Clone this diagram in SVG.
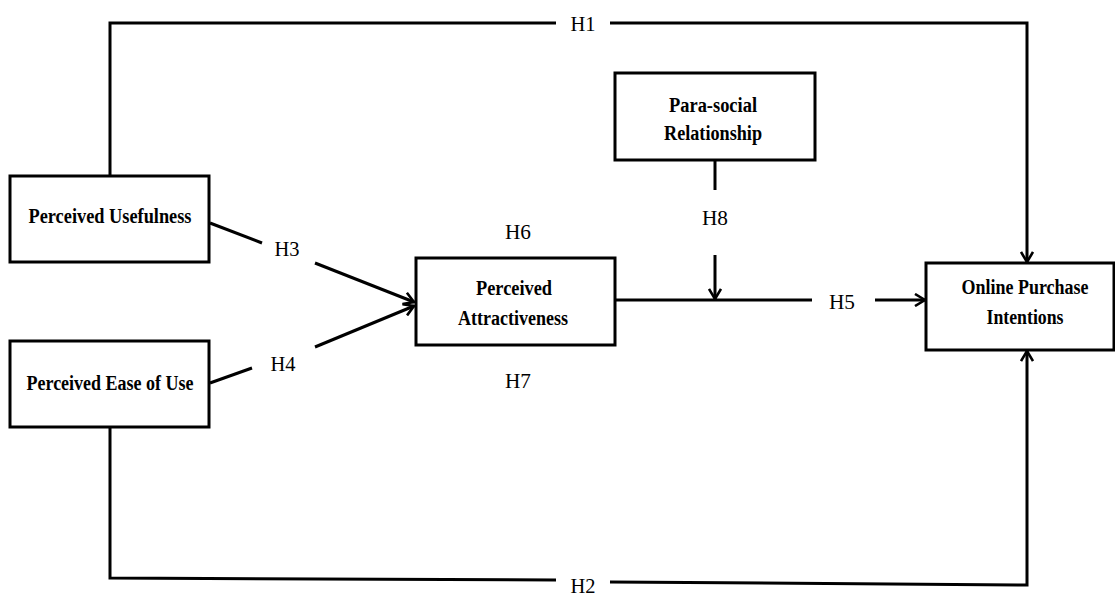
<svg xmlns="http://www.w3.org/2000/svg" width="1115" height="597" viewBox="0 0 1115 597">
<style>
.box{fill:#fff;stroke:#000;stroke-width:3}
.ln{fill:none;stroke:#000;stroke-width:3}
.nt{font-family:"Liberation Serif","Times New Roman",serif;font-weight:bold;font-size:20px;fill:#000;text-anchor:middle}
.lb{font-family:"Liberation Serif","Times New Roman",serif;font-size:21px;fill:#000;text-anchor:middle}
</style>
<defs>
<marker id="ah" viewBox="0 0 14 14" refX="12" refY="7" markerWidth="14" markerHeight="14" markerUnits="userSpaceOnUse" orient="auto">
<path d="M2,1 L12,7 L2,13" fill="none" stroke="#000" stroke-width="2.6"/>
</marker>
</defs>
<rect width="1115" height="597" fill="#fff"/>
<g id="connectors">
<polyline class="ln" points="110,176 110,23 556,23"/>
<polyline class="ln" points="610,23 1027,23 1027,262" marker-end="url(#ah)"/>
<polyline class="ln" points="110,427 110,578 556,580"/>
<polyline class="ln" points="610,582 1027,585 1027,351" marker-end="url(#ah)"/>
<line class="ln" x1="210" y1="223" x2="262" y2="243"/>
<line class="ln" x1="315" y1="263" x2="414" y2="302" marker-end="url(#ah)"/>
<line class="ln" x1="210" y1="383" x2="252" y2="368"/>
<line class="ln" x1="315" y1="347" x2="414" y2="306" marker-end="url(#ah)"/>
<line class="ln" x1="715" y1="160" x2="715" y2="190"/>
<line class="ln" x1="715" y1="255" x2="715" y2="299" marker-end="url(#ah)"/>
<line class="ln" x1="616" y1="300" x2="812" y2="300"/>
<line class="ln" x1="875" y1="300" x2="925" y2="300" marker-end="url(#ah)"/>
<text class="lb" x="583" y="31" textLength="25" lengthAdjust="spacingAndGlyphs">H1</text>
<text class="lb" x="583" y="593" textLength="25" lengthAdjust="spacingAndGlyphs">H2</text>
<text class="lb" x="287" y="256" textLength="25" lengthAdjust="spacingAndGlyphs">H3</text>
<text class="lb" x="283" y="371" textLength="25" lengthAdjust="spacingAndGlyphs">H4</text>
<text class="lb" x="842" y="309" textLength="26" lengthAdjust="spacingAndGlyphs">H5</text>
<text class="lb" x="518" y="239" textLength="26" lengthAdjust="spacingAndGlyphs">H6</text>
<text class="lb" x="518" y="388" textLength="26" lengthAdjust="spacingAndGlyphs">H7</text>
<text class="lb" x="715" y="225" textLength="26" lengthAdjust="spacingAndGlyphs">H8</text>
</g>
<g id="usefulness">
<rect class="box" x="10" y="176" width="199" height="86"/>
<text class="nt" x="110" y="223" textLength="163" lengthAdjust="spacingAndGlyphs">Perceived Usefulness</text>
</g>
<g id="easeofuse">
<rect class="box" x="10" y="341" width="199" height="86"/>
<text class="nt" x="110" y="390" textLength="167" lengthAdjust="spacingAndGlyphs">Perceived Ease of Use</text>
</g>
<g id="attractiveness">
<rect class="box" x="416" y="258" width="199" height="87"/>
<text class="nt" x="514" y="295" textLength="76" lengthAdjust="spacingAndGlyphs">Perceived</text>
<text class="nt" x="513" y="325" textLength="110" lengthAdjust="spacingAndGlyphs">Attractiveness</text>
</g>
<g id="parasocial">
<rect class="box" x="615" y="73" width="200" height="87"/>
<text class="nt" x="713" y="112" textLength="88" lengthAdjust="spacingAndGlyphs">Para-social</text>
<text class="nt" x="713" y="140" textLength="98" lengthAdjust="spacingAndGlyphs">Relationship</text>
</g>
<g id="purchase">
<rect class="box" x="926" y="263" width="188" height="87"/>
<text class="nt" x="1025" y="294" textLength="127" lengthAdjust="spacingAndGlyphs">Online Purchase</text>
<text class="nt" x="1025" y="324" textLength="77" lengthAdjust="spacingAndGlyphs">Intentions</text>
</g>
</svg>
